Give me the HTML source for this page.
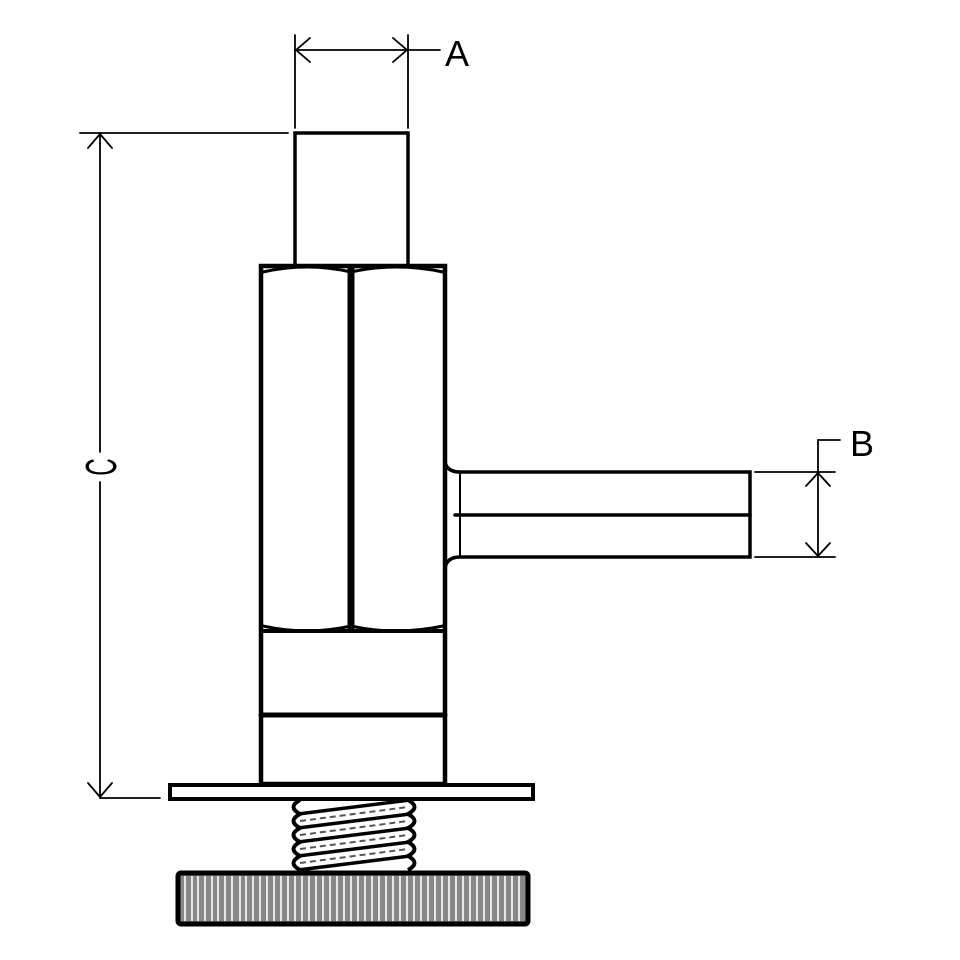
<!DOCTYPE html>
<html><head><style>body{margin:0;background:#fff}svg{display:block}</style></head><body>
<svg width="960" height="960" viewBox="0 0 960 960" xmlns="http://www.w3.org/2000/svg">
<rect width="960" height="960" fill="#fff"/>
<g fill="none" stroke="#000" stroke-linecap="round">
<rect x="295" y="133" width="113" height="133" stroke-width="3.5"/>
<rect x="261" y="266" width="184" height="518" stroke-width="4.5"/>
<path d="M263 272 Q307 262 351 272 Q396 262 443 272" stroke-width="3"/>
<path d="M263 626 Q307 636 351 626 Q396 636 443 626" stroke-width="3"/>
<line x1="351" y1="268" x2="351" y2="628" stroke-width="7"/>
<line x1="261" y1="631" x2="445" y2="631" stroke-width="4"/>
<line x1="261" y1="715" x2="445" y2="715" stroke-width="5"/>
<path d="M445 462 Q447 472 460 472 L750 472 L750 557 L460 557 Q447 557 445 568" stroke-width="3.5"/>
<line x1="460" y1="472" x2="460" y2="557" stroke-width="2"/>
<line x1="455" y1="515" x2="750" y2="515" stroke-width="3.5"/>
<rect x="170" y="785" width="363" height="14" stroke-width="4"/>
<g stroke-width="1.8">
<line x1="295" y1="35" x2="295" y2="128"/><line x1="408" y1="35" x2="408" y2="128"/>
<line x1="295" y1="50" x2="408" y2="50"/><line x1="408" y1="50" x2="440" y2="50"/>
<path d="M310 38 L296 50 L310 62 M393 38 L407 50 L393 62"/>
<line x1="80" y1="133" x2="288" y2="133"/>
<line x1="100" y1="133" x2="100" y2="452"/><line x1="100" y1="482" x2="100" y2="798"/>
<line x1="100" y1="798" x2="160" y2="798"/>
<path d="M88 148 L100 134 L112 148 M88 783 L100 797 L112 783"/>
<line x1="755" y1="472" x2="835" y2="472"/><line x1="755" y1="557" x2="835" y2="557"/>
<line x1="818" y1="440" x2="818" y2="557"/><line x1="818" y1="440" x2="840" y2="440"/>
<path d="M806 486 L818 473 L830 486 M806 543 L818 556 L830 543"/>
</g>
</g>
<g stroke="#000" fill="none">
<rect x="296" y="802" width="114" height="68" fill="#fff" stroke="none"/>
<path d="M300 800 Q287 807 300 814 Q287 821 300 828 Q287 835 300 842 Q287 849 300 856 Q287 863 300 870" stroke-width="4"/>
<path d="M408 800 Q421 807 408 814 Q421 821 408 828 Q421 835 408 842 Q421 849 408 856 Q421 863 408 870" stroke-width="4"/>
<g stroke-width="3.5"><line x1="298" y1="814" x2="410" y2="800"/><line x1="298" y1="828" x2="410" y2="814"/><line x1="298" y1="842" x2="410" y2="828"/><line x1="298" y1="856" x2="410" y2="842"/><line x1="298" y1="870" x2="410" y2="856"/></g>
<g stroke-width="2" stroke="#555" stroke-dasharray="6 4"><line x1="300" y1="821" x2="408" y2="807"/><line x1="300" y1="835" x2="408" y2="821"/><line x1="300" y1="849" x2="408" y2="835"/><line x1="300" y1="863" x2="408" y2="849"/></g>
</g>
<rect x="178" y="873" width="350" height="51" rx="3" fill="#888" stroke="#000" stroke-width="5"/>
<g stroke="#fff" stroke-width="1.6">
<path d="M185 876V921M192 876V921M198 876V921M205 876V921M212 876V921M218 876V921M225 876V921M232 876V921M240 876V921M246 876V921M253 876V921M260 876V921M267 876V921M274 876V921M281 876V921M288 876V921M295 876V921M302 876V921M309 876V921M316 876V921M323 876V921M330 876V921M337 876V921M344 876V921M351 876V921M358 876V921M365 876V921M372 876V921M379 876V921M386 876V921M393 876V921M400 876V921M407 876V921M414 876V921M421 876V921M428 876V921M435 876V921M442 876V921M449 876V921M456 876V921M463 876V921M470 876V921M477 876V921M484 876V921M491 876V921M498 876V921M505 876V921M512 876V921M519 876V921"/>
</g>
<g font-family="Liberation Sans, sans-serif" font-size="36" fill="#000">
<text x="445" y="66">A</text>
<text x="850" y="456">B</text>
<text x="0" y="16" font-size="44" transform="translate(100,467) scale(1,0.55) rotate(-90)" text-anchor="middle">C</text>
</g>
</svg>
</body></html>
